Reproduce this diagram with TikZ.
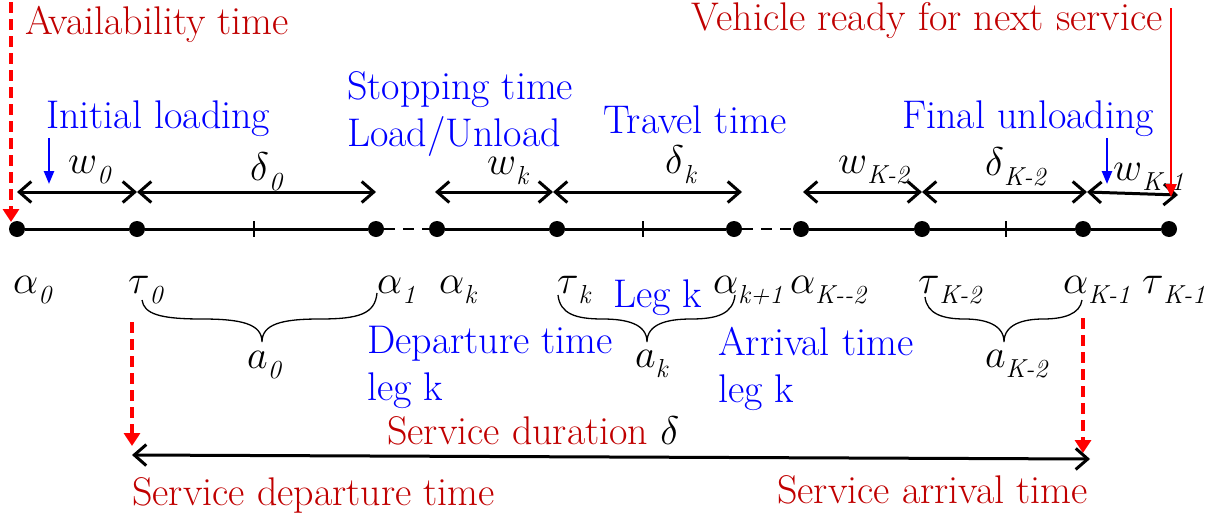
\RequirePackage{fix-cm}
\documentclass[tikz,border=0pt]{standalone}
\usepackage{fontspec}
\usetikzlibrary{arrows.meta}
\definecolor{lblred}{HTML}{C00000}
\definecolor{lblblue}{HTML}{0000FF}
\definecolor{markred}{HTML}{FF0000}
% italic symbol with an italic subscript
\newcommand\tsym[2]{$#1$\raisebox{-0.26em}{\fontsize{26}{26}\selectfont\itshape #2}}
% curly brace: left end (x,y), tip x, right end (x,y)
\newcommand\curlybrace[5]{%
  \draw[bracestroke] (#1,#2) .. controls (#1+2,314) and (#1+18,319) .. ({(#1+#3)/2},319)
    .. controls ({#3-20},319) and (#3,324) .. (#3,342)
    .. controls (#3,324) and ({#3+20},319) .. ({(#3+#4)/2},319)
    .. controls ({#4-18},319) and ({#4-2},314) .. (#4,#5);}
\begin{document}
\begin{tikzpicture}[x=1pt,y=-1pt,
  font=\fontsize{40}{46}\selectfont,
  txt/.style={inner sep=0pt, anchor=base west},
  redtxt/.style={txt, text=lblred},
  bluetxt/.style={txt, text=lblblue},
  dot/.style={circle, fill=black, minimum size=16pt, inner sep=0pt},
  axis/.style={line width=3pt},
  axisgap/.style={line width=2.8pt, dash pattern=on 11pt off 8pt},
  span/.style={line width=3pt,
    {Straight Barb[length=12pt,width=21pt]}-{Straight Barb[length=12pt,width=21pt]}},
  pointer/.style={lblblue, line width=2.4pt, -{Triangle[length=13pt,width=10pt]}},
  redmark/.style={markred, line width=3.4pt, dash pattern=on 11pt off 6pt,
    -{Triangle[length=13pt,width=16pt]}},
  redline/.style={markred, line width=2.4pt, -{Triangle[length=13pt,width=11pt]}},
  bracestroke/.style={line width=1.3pt},
  tickmark/.style={line width=2.6pt}]
\useasboundingbox (0,0) rectangle (1205,517);

% time axis with its event points
\node[dot] (d0) at (17,229) {};
\node[dot] (d1) at (137,229) {};
\node[dot] (d2) at (376,229) {};
\node[dot] (d3) at (437,229) {};
\node[dot] (d4) at (557,229) {};
\node[dot] (d5) at (734,229) {};
\node[dot] (d6) at (801,229) {};
\node[dot] (d7) at (922,229) {};
\node[dot] (d8) at (1083,229) {};
\node[dot] (d9) at (1169,229) {};
\draw[axis] (d0) -- (d1) -- (d2);
\draw[axisgap] (d2) -- (d3);
\draw[axis] (d3) -- (d4) -- (d5);
\draw[axisgap] (d5) -- (d6);
\draw[axis] (d6) -- (d7) -- (d8) -- (d9);
\coordinate (t0) at (254,229);
\coordinate (t1) at (643,229);
\coordinate (t2) at (1006,229);
\foreach \t in {t0,t1,t2} \draw[tickmark] (\t) ++(0,-8) -- ++(0,16);

% interval spans above the axis
\coordinate (s0) at (17,192);
\coordinate (s1) at (137,192);
\coordinate (s2) at (376,192);
\coordinate (s3) at (435,192);
\coordinate (s4) at (553,192);
\coordinate (s5) at (742,192);
\coordinate (s6) at (803,192);
\coordinate (s7) at (922,192);
\coordinate (s8) at (1087,192);
\coordinate (s9) at (1178,195);
\draw[span] (s0) -- (s1);
\draw[span] (s1) -- (s2);
\draw[span] (s3) -- (s4);
\draw[span] (s4) -- (s5);
\draw[span] (s6) -- (s7);
\draw[span] (s7) -- (s8);
\draw[span] (s8) -- (s9);

\node[txt] (lw0) at (68,173) {\tsym{w}{0}};
\node[txt] (ld0) at (250,180) {\tsym{\delta}{0}};
\node[txt] (lwk) at (487,174) {\tsym{w}{k}};
\node[txt] (ldk) at (665,173) {\tsym{\delta}{k}};
\node[txt] (lwK2) at (838,173) {\tsym{w}{K-2}};
\node[txt] (ldK2) at (985,175) {\tsym{\delta}{K-2}};
\node[txt] (lwK1) at (1113,180) {\tsym{w}{K-1}};

% headings
\node[redtxt] (avail) at (25,34) {Availability time};
\node[redtxt, anchor=base east] (ready) at (1163,30) {Vehicle ready for next service};
\node[bluetxt] (initial) at (46,128) {Initial loading};
\node[bluetxt] (stop1) at (347,99) {Stopping time};
\node[bluetxt] (stop2) at (347,146) {Load/Unload};
\node[bluetxt] (travel) at (603,133) {Travel time};
\node[bluetxt] (final) at (902,128) {Final unloading};

\coordinate (availtop) at (11,2);
\coordinate (availend) at (11,222);
\draw[redmark] (availtop) -- (availend);
\coordinate (readytop) at (1171,8);
\coordinate (readyend) at (1171,197);
\draw[redline] (readytop) -- (readyend);
\coordinate (inittop) at (49,138);
\coordinate (initend) at (49,184);
\draw[pointer] (inittop) -- (initend);
\coordinate (finaltop) at (1107,138);
\coordinate (finalend) at (1107,184);
\draw[pointer] (finaltop) -- (finalend);

% event times below the axis
\node[txt] (e0) at (13,293) {\tsym{\alpha}{0}};
\node[txt] (e1) at (128,293) {\tsym{\tau}{0}};
\node[txt] (e2) at (377,293) {\tsym{\alpha}{1}};
\node[txt] (e3) at (439,293) {\tsym{\alpha}{k}};
\node[txt] (e4) at (557,293) {\tsym{\tau}{k}};
\node[txt] (e5) at (713,293) {\tsym{\alpha}{k+1}};
\node[txt] (e6) at (790,293) {\tsym{\alpha}{K-{}-2}};
\node[txt] (e7) at (918,293) {\tsym{\tau}{K-2}};
\node[txt] (e8) at (1063,293) {\tsym{\alpha}{K-1}};
\node[txt] (e9) at (1142,293) {\tsym{\tau}{K-1}};
\node[bluetxt] (legk) at (613,307) {Leg k};

% braces grouping each leg
\curlybrace{142}{300}{262}{377}{293}
\curlybrace{558}{295}{647}{735}{295}
\curlybrace{925}{297}{1004}{1082}{300}
\node[txt] (la0) at (247,368) {\tsym{a}{0}};
\node[txt] (lak) at (635,367) {\tsym{a}{k}};
\node[txt] (laK2) at (985,367) {\tsym{a}{K-2}};

\node[bluetxt] (dep1) at (367,353) {Departure time};
\node[bluetxt] (dep2) at (367,400) {leg k};
\node[bluetxt] (arr1) at (718,355) {Arrival time};
\node[bluetxt] (arr2) at (718,402) {leg k};

% overall service duration
\coordinate (deptop) at (132,322);
\coordinate (depend) at (132,446);
\draw[redmark] (deptop) -- (depend);
\coordinate (arrtop) at (1083,318);
\coordinate (arrend) at (1083,453);
\draw[redmark] (arrtop) -- (arrend);
\coordinate (svcstart) at (132,455);
\coordinate (svcend) at (1090,459);
\draw[span] (svcstart) -- (svcend);
\node[redtxt] (duration) at (387,444) {Service duration \textcolor{black}{$\delta$}};
\node[redtxt] (svcdep) at (132,505) {Service departure time};
\node[redtxt, anchor=base east] (svcarr) at (1088,503) {Service arrival time};
\end{tikzpicture}
\end{document}
